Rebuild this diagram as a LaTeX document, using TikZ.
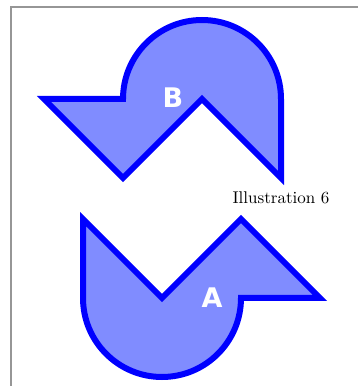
\documentclass[tikz,border=0pt]{standalone}
\usepackage{fontspec}
\newfontfamily\labelfont{DejaVu Sans}
\newfontfamily\capfont{lmroman10-regular}[Extension=.otf]
\definecolor{shapefill}{RGB}{128,140,255}
\definecolor{framegray}{RGB}{150,150,150}
\begin{document}
\begin{tikzpicture}[x=1pt,y=1pt,
  arrowshape/.style={draw=blue,fill=shapefill,line width=6pt,miter limit=10},
  letter/.style={text=white,font=\labelfont\bfseries\fontsize{27}{29}\selectfont,inner sep=0pt},
  caption/.style={font=\capfont\fontsize{17}{20}\selectfont,inner sep=0pt,anchor=base}]
\useasboundingbox (0,0) rectangle (358,386);
\draw[framegray,line width=1.5pt] (11,0) -- (11,379) -- (358,379);
% shape A (bottom)
\path[arrowshape] (83,167) -- (162,88) -- (241,167) -- (320,88) -- (241,88)
  arc[start angle=0,end angle=-180,radius=79] -- cycle;
% shape B (top)
\path[arrowshape] (281,208) -- (202,287) -- (123,208) -- (44,287) -- (123,287)
  arc[start angle=180,end angle=0,radius=79] -- cycle;
\node[letter] (A) at (212,88) {A};
\node[letter] (B) at (173,288) {B};
\node[caption] (cap) at (281,182) {Illustration 6};
\end{tikzpicture}
\end{document}
